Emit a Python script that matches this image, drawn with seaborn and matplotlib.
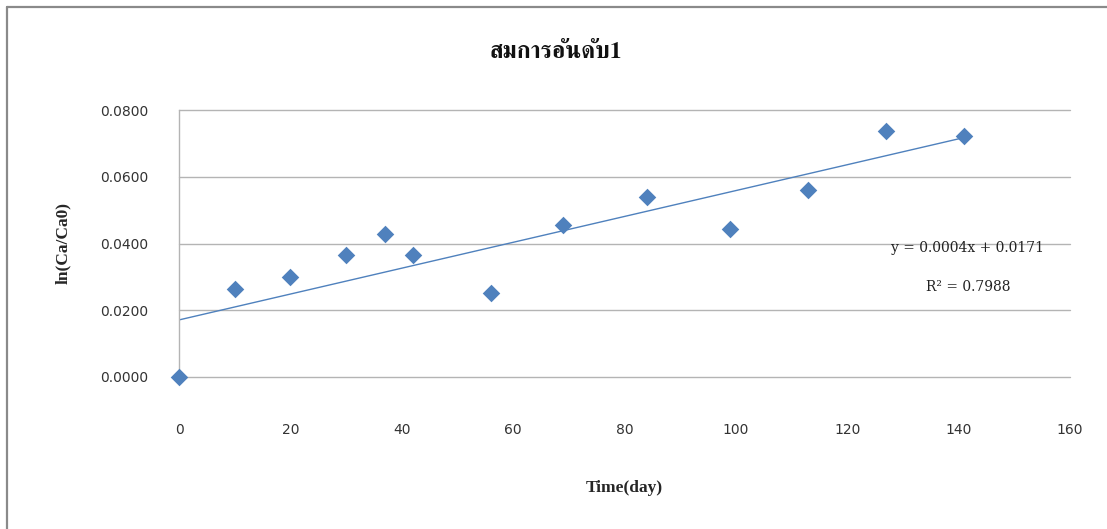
import numpy as np
import pandas as pd
import matplotlib
matplotlib.use("Agg")
import matplotlib.pyplot as plt
from matplotlib import font_manager, ft2font
from matplotlib.lines import Line2D
from matplotlib.ticker import FormatStrFormatter, MultipleLocator
import seaborn as sns

# Measurements: elapsed time and ln(Ca/Ca0)
time_day = [0, 10, 20, 30, 37, 42, 56, 69, 84, 99, 113, 127, 141]
ln_ratio = [0.0000, 0.0263, 0.0300, 0.0367, 0.0428, 0.0367, 0.0253,
            0.0454, 0.0538, 0.0443, 0.0559, 0.0737, 0.0723]

title_text = "สมการอันดับ1"
x_label = "Time(day)"
y_label = "ln(Ca/Ca0)"
eq_text = "y = 0.0004x + 0.0171"
r2_text = "R² = 0.7988"

BLUE = "#4F81BD"
GRID = "#B4B4B4"


def font_with_char(ch):
    """Return the family name of an installed font that has glyph `ch`."""
    found = []
    for f in font_manager.fontManager.ttflist:
        try:
            cmap = ft2font.FT2Font(f.fname).get_charmap()
        except Exception:
            continue
        if ord(ch) in cmap:
            found.append(f)
    if not found:
        return "DejaVu Sans"
    found.sort(key=lambda f: (f.weight not in ("bold", 700), "Serif" not in f.name))
    return found[0].name


sns.set_theme(style="white")
plt.rcParams["font.family"] = ["DejaVu Sans"]

df = pd.DataFrame({"time": time_day, "ln": ln_ratio})

fig = plt.figure(figsize=(11.07, 5.29), dpi=100)
ax = fig.add_axes([179 / 1107, 1 - 377 / 529, (1070 - 179) / 1107, (377 - 110) / 529])

sns.scatterplot(data=df, x="time", y="ln", marker="D", s=80, color=BLUE,
                linewidth=0, ax=ax, zorder=3, clip_on=False)

# least-squares trend line over the observed time span
slope, intercept = np.polyfit(df["time"], df["ln"], 1)
trend = pd.DataFrame({"time": [0, max(time_day)]})
trend["ln"] = slope * trend["time"] + intercept
sns.lineplot(data=trend, x="time", y="ln", color=BLUE, linewidth=1.0, ax=ax, zorder=2)

ax.set_xlim(0, 160)
ax.set_ylim(0, 0.08)
ax.xaxis.set_major_locator(MultipleLocator(20))
ax.yaxis.set_major_locator(MultipleLocator(0.02))
ax.yaxis.set_major_formatter(FormatStrFormatter("%.4f"))
ax.grid(axis="y", color=GRID, linewidth=1.0)
for gl in ax.get_ygridlines():
    gl.set_clip_on(False)
ax.set_axisbelow(True)
for side in ("top", "right", "bottom"):
    ax.spines[side].set_visible(False)
ax.spines["left"].set_color(GRID)
ax.spines["left"].set_linewidth(1.0)
ax.tick_params(axis="both", length=0, labelsize=10, colors="#333333")
ax.tick_params(axis="y", pad=22)
ax.tick_params(axis="x", pad=33)

ax.set_xlabel(x_label, family="Liberation Serif", fontweight="bold", fontsize=12.5,
              labelpad=31)
ax.set_ylabel(y_label, family="Liberation Serif", fontweight="bold", fontsize=12.5,
              labelpad=21)

thai_family = font_with_char("ส")
fig.text(556 / 1107, 1 - 52 / 529, title_text, family=[thai_family, "DejaVu Sans"],
         fontweight="bold", fontsize=17, ha="center", va="center", color="#111111")

fig.text(968 / 1107, 1 - 248 / 529, eq_text, family="DejaVu Serif", fontsize=10,
         ha="center", va="center", color="#222222")
fig.text(968 / 1107, 1 - 287 / 529, r2_text, family="DejaVu Serif", fontsize=10,
         ha="center", va="center", color="#222222")

# chart-area frame
fig.add_artist(Line2D([7 / 1107, 7 / 1107], [0, 1 - 7 / 529], transform=fig.transFigure,
                      color="#8A8A8A", linewidth=1.6))
fig.add_artist(Line2D([7 / 1107, 1], [1 - 7 / 529, 1 - 7 / 529], transform=fig.transFigure,
                      color="#8A8A8A", linewidth=1.6))

fig.savefig("out.png", dpi=100, facecolor="white")
